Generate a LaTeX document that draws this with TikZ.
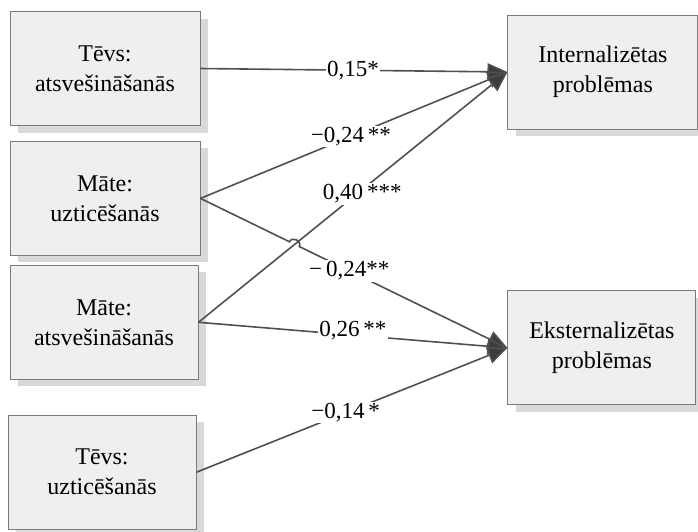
\documentclass[tikz,border=0pt]{standalone}
\usepackage{fontspec}
\setmainfont{Liberation Serif}
\usepackage{tikz}
\usetikzlibrary{arrows.meta, positioning, calc, shadows}

\definecolor{boxfill}{HTML}{EFEFEF}
\definecolor{boxline}{HTML}{7A7A7A}
\definecolor{shade}{HTML}{D9D9D9}
\definecolor{linegray}{HTML}{505050}
\definecolor{tipgray}{HTML}{3C3C3C}

\begin{document}
\begin{tikzpicture}[
        x=1pt, y=-1pt,
        var/.style={rectangle, draw=boxline, line width=0.9pt, fill=boxfill, minimum width=190pt, minimum height=114pt, align=center, font=\fontsize{24}{30}\selectfont, drop shadow={shadow xshift=8pt, shadow yshift=-7pt, fill=shade, opacity=1}},
        coef/.style={fill=white, inner sep=1.5pt, font=\fontsize{23}{26}\selectfont},
        arrow/.style={draw=linegray, line width=1.6pt, -{Triangle[length=20pt, width=17pt, fill=tipgray]}}
        ]
        \useasboundingbox (0,0) rectangle (698,531);

        % Nodes
        \node (ta) [var] at (105,68.5) {Tēvs:\\atsvešināšanās};
        \node (mu) [var, below=15pt of ta] {Māte:\\uzticēšanās};
        \node (ma) [var, below=9pt of mu, xshift=-1pt, minimum width=188pt] {Māte:\\atsvešināšanās};
        \node (tu) [var, below=35pt of ma, xshift=-2pt, minimum width=188pt] {Tēvs:\\uzticēšanās};

        \node (in) [var, right=307pt of ta, yshift=-3.5pt] {Internalizētas\\problēmas};
        \node (ek) [var, below=161pt of in, xshift=-1pt, minimum width=188pt] {Eksternalizētas\\problēmas};

        % Bridge over the crossing line
        \path (mu.east) -- (ek.west) coordinate[pos=0.29] (hopa) coordinate[pos=0.322] (hopb);

        % Arrows
        \draw [arrow] (ta.east) -- (in.west) node[coef, pos=0.49, xshift=2pt] {0,15*};
        \draw [arrow] (mu.east) -- (in.west) node[coef, pos=0.49] {−0,24\,**};
        \draw [arrow] (ma.east) -- (in.west) node[coef, pos=0.53, yshift=-4pt] {0,40\,***};

        \draw [arrow] (mu.east) -- (hopa) to[bend left=90, looseness=1.5] (hopb) -- (ek.west) node[coef, pos=0.24] {−\,0,24**};
        \draw [arrow] (ma.east) -- (ek.west) node[coef, pos=0.5, yshift=4pt] {0,26\,**};
        \draw [arrow] (tu.east) -- (ek.west) node[coef, pos=0.48] {−0,14\,*};

\end{tikzpicture}
\end{document}
